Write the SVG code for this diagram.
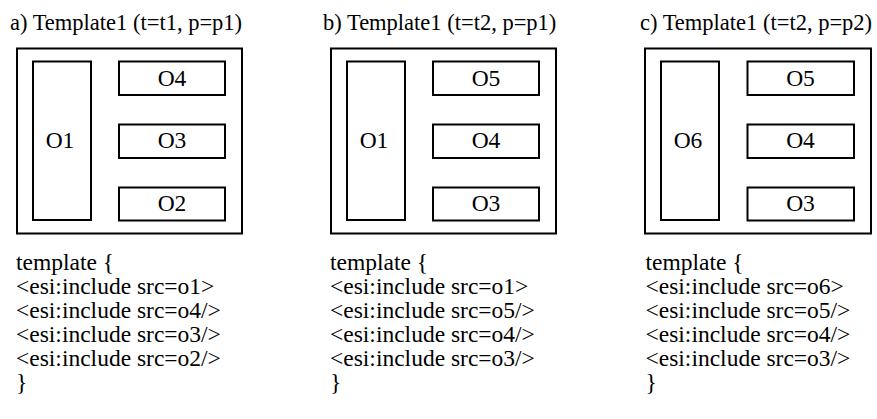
<svg xmlns="http://www.w3.org/2000/svg" width="877" height="419" viewBox="0 0 877 419">
<style>
  .box { fill: none; stroke: #000; stroke-width: 2; }
  .t { font-family: "Liberation Serif", "Times New Roman", serif; fill: #000; }
  .title { font-size: 22.5px; }
  .lbl { font-size: 23.5px; text-anchor: middle; }
  .code { font-size: 23.5px; }
</style>
<rect width="877" height="419" fill="#fff"/>

<g id="panel-a">
  <text class="t title" x="10" y="30">a) Template1 (t=t1, p=p1)</text>
  <g id="a-template"><rect class="box" x="17" y="48.5" width="225" height="185"/></g>
  <g id="a-o1"><rect class="box" x="33" y="61.5" width="58" height="158.5"/><text class="t lbl" x="60" y="147.5">O1</text></g>
  <g id="a-o4"><rect class="box" x="119" y="61.5" width="106" height="33.5"/><text class="t lbl" x="172" y="85.5">O4</text></g>
  <g id="a-o3"><rect class="box" x="119" y="124.5" width="106" height="33.5"/><text class="t lbl" x="172" y="148">O3</text></g>
  <g id="a-o2"><rect class="box" x="119" y="187.5" width="106" height="33"/><text class="t lbl" x="172" y="210.5">O2</text></g>
  <g id="a-code">
    <text class="t code" x="16" y="270">template {</text>
    <text class="t code" x="16" y="294">&lt;esi:include src=o1&gt;</text>
    <text class="t code" x="16" y="318">&lt;esi:include src=o4/&gt;</text>
    <text class="t code" x="16" y="342">&lt;esi:include src=o3/&gt;</text>
    <text class="t code" x="16" y="366">&lt;esi:include src=o2/&gt;</text>
    <text class="t code" x="16" y="390">}</text>
  </g>
</g>

<g id="panel-b">
  <text class="t title" x="323" y="30">b) Template1 (t=t2, p=p1)</text>
  <g id="b-template"><rect class="box" x="331" y="48.5" width="225" height="185"/></g>
  <g id="b-o1"><rect class="box" x="347" y="61.5" width="58" height="158.5"/><text class="t lbl" x="374" y="147.5">O1</text></g>
  <g id="b-o5"><rect class="box" x="433" y="61.5" width="106" height="33.5"/><text class="t lbl" x="486" y="85.5">O5</text></g>
  <g id="b-o4"><rect class="box" x="433" y="124.5" width="106" height="33.5"/><text class="t lbl" x="486" y="148">O4</text></g>
  <g id="b-o3"><rect class="box" x="433" y="187.5" width="106" height="33"/><text class="t lbl" x="486" y="210.5">O3</text></g>
  <g id="b-code">
    <text class="t code" x="330" y="270">template {</text>
    <text class="t code" x="330" y="294">&lt;esi:include src=o1&gt;</text>
    <text class="t code" x="330" y="318">&lt;esi:include src=o5/&gt;</text>
    <text class="t code" x="330" y="342">&lt;esi:include src=o4/&gt;</text>
    <text class="t code" x="330" y="366">&lt;esi:include src=o3/&gt;</text>
    <text class="t code" x="330" y="390">}</text>
  </g>
</g>

<g id="panel-c">
  <text class="t title" x="640" y="30">c) Template1 (t=t2, p=p2)</text>
  <g id="c-template"><rect class="box" x="645" y="48.5" width="226" height="185"/></g>
  <g id="c-o6"><rect class="box" x="661" y="61.5" width="58" height="158.5"/><text class="t lbl" x="688" y="147.5">O6</text></g>
  <g id="c-o5"><rect class="box" x="747.5" y="61.5" width="106.5" height="33.5"/><text class="t lbl" x="800.5" y="85.5">O5</text></g>
  <g id="c-o4"><rect class="box" x="747.5" y="124.5" width="106.5" height="33.5"/><text class="t lbl" x="800.5" y="148">O4</text></g>
  <g id="c-o3"><rect class="box" x="747.5" y="187.5" width="106.5" height="33"/><text class="t lbl" x="800.5" y="210.5">O3</text></g>
  <g id="c-code">
    <text class="t code" x="645.5" y="270">template {</text>
    <text class="t code" x="645.5" y="294">&lt;esi:include src=o6&gt;</text>
    <text class="t code" x="645.5" y="318">&lt;esi:include src=o5/&gt;</text>
    <text class="t code" x="645.5" y="342">&lt;esi:include src=o4/&gt;</text>
    <text class="t code" x="645.5" y="366">&lt;esi:include src=o3/&gt;</text>
    <text class="t code" x="645.5" y="390">}</text>
  </g>
</g>

<g id="connectors"></g>
</svg>
